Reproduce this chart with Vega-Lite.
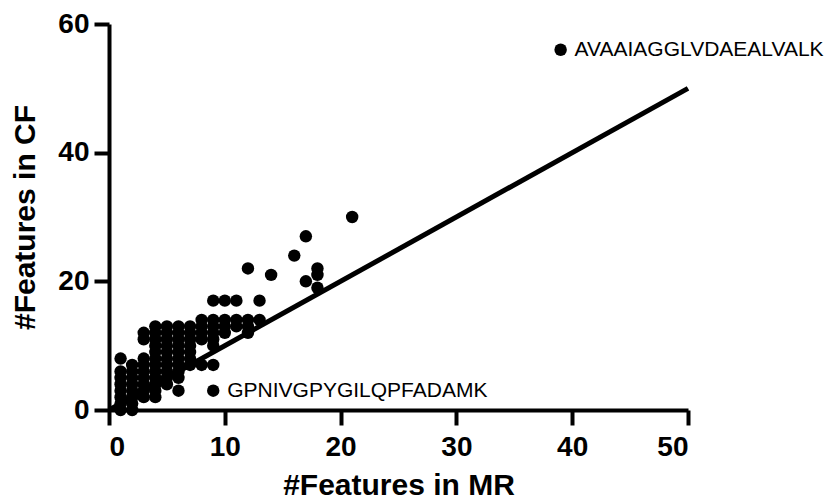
{
  "$schema": "https://vega.github.io/schema/vega-lite/v6.json",
  "width": 579,
  "height": 386,
  "autosize": "none",
  "padding": {"left": 109, "top": 24, "right": 146, "bottom": 94},
  "background": "white",
  "config": {
    "view": {"stroke": null},
    "font": "Liberation Sans",
    "axis": {
      "grid": false,
      "domainColor": "black",
      "domainWidth": 4,
      "tickColor": "black",
      "tickWidth": 4,
      "tickSize": 15,
      "labelFont": "Liberation Sans",
      "labelFontWeight": "bold",
      "labelFontSize": 28,
      "labelColor": "black",
      "titleFont": "Liberation Sans",
      "titleFontWeight": "bold",
      "titleFontSize": 30,
      "titleColor": "black"
    }
  },
  "datasets": {
    "points": [
      {"mr": 1, "cf": 0}, {"mr": 1, "cf": 1}, {"mr": 1, "cf": 2}, {"mr": 1, "cf": 3}, {"mr": 1, "cf": 4}, {"mr": 1, "cf": 5}, {"mr": 1, "cf": 6}, {"mr": 1, "cf": 8},
      {"mr": 2, "cf": 0}, {"mr": 2, "cf": 1}, {"mr": 2, "cf": 2}, {"mr": 2, "cf": 3}, {"mr": 2, "cf": 4}, {"mr": 2, "cf": 5}, {"mr": 2, "cf": 6}, {"mr": 2, "cf": 7},
      {"mr": 3, "cf": 2}, {"mr": 3, "cf": 3}, {"mr": 3, "cf": 4}, {"mr": 3, "cf": 5}, {"mr": 3, "cf": 6}, {"mr": 3, "cf": 7}, {"mr": 3, "cf": 8}, {"mr": 3, "cf": 11}, {"mr": 3, "cf": 12},
      {"mr": 4, "cf": 2}, {"mr": 4, "cf": 3}, {"mr": 4, "cf": 4}, {"mr": 4, "cf": 5}, {"mr": 4, "cf": 6}, {"mr": 4, "cf": 7}, {"mr": 4, "cf": 8}, {"mr": 4, "cf": 9}, {"mr": 4, "cf": 10}, {"mr": 4, "cf": 11}, {"mr": 4, "cf": 12}, {"mr": 4, "cf": 13},
      {"mr": 5, "cf": 4}, {"mr": 5, "cf": 5}, {"mr": 5, "cf": 6}, {"mr": 5, "cf": 7}, {"mr": 5, "cf": 8}, {"mr": 5, "cf": 9}, {"mr": 5, "cf": 10}, {"mr": 5, "cf": 11}, {"mr": 5, "cf": 12}, {"mr": 5, "cf": 13},
      {"mr": 6, "cf": 3}, {"mr": 6, "cf": 5}, {"mr": 6, "cf": 6}, {"mr": 6, "cf": 7}, {"mr": 6, "cf": 8}, {"mr": 6, "cf": 9}, {"mr": 6, "cf": 10}, {"mr": 6, "cf": 11}, {"mr": 6, "cf": 12}, {"mr": 6, "cf": 13},
      {"mr": 7, "cf": 7}, {"mr": 7, "cf": 8}, {"mr": 7, "cf": 9}, {"mr": 7, "cf": 10}, {"mr": 7, "cf": 11}, {"mr": 7, "cf": 12}, {"mr": 7, "cf": 13},
      {"mr": 8, "cf": 7}, {"mr": 8, "cf": 11}, {"mr": 8, "cf": 12}, {"mr": 8, "cf": 13}, {"mr": 8, "cf": 14},
      {"mr": 9, "cf": 3}, {"mr": 9, "cf": 7}, {"mr": 9, "cf": 10}, {"mr": 9, "cf": 11}, {"mr": 9, "cf": 12}, {"mr": 9, "cf": 13}, {"mr": 9, "cf": 14}, {"mr": 9, "cf": 17},
      {"mr": 10, "cf": 12}, {"mr": 10, "cf": 13}, {"mr": 10, "cf": 14}, {"mr": 10, "cf": 17},
      {"mr": 11, "cf": 13}, {"mr": 11, "cf": 14}, {"mr": 11, "cf": 17},
      {"mr": 12, "cf": 12}, {"mr": 12, "cf": 13}, {"mr": 12, "cf": 14}, {"mr": 12, "cf": 22},
      {"mr": 13, "cf": 14}, {"mr": 13, "cf": 17},
      {"mr": 14, "cf": 21},
      {"mr": 16, "cf": 24},
      {"mr": 17, "cf": 20}, {"mr": 17, "cf": 27},
      {"mr": 18, "cf": 19}, {"mr": 18, "cf": 21}, {"mr": 18, "cf": 22},
      {"mr": 21, "cf": 30},
      {"mr": 39, "cf": 56}
    ],
    "line": [{"mr": 0, "cf": 0}, {"mr": 50, "cf": 50}],
    "labels": [
      {"mr": 39, "cf": 56, "peptide": "AVAAIAGGLVDAEALVALK"},
      {"mr": 9, "cf": 3, "peptide": "GPNIVGPYGILQPFADAMK"}
    ]
  },
  "layer": [
    {
      "data": {"name": "line"},
      "mark": {"type": "line", "color": "black", "strokeWidth": 5, "strokeCap": "butt"},
      "encoding": {
        "x": {"field": "mr", "type": "quantitative", "scale": {"domain": [0, 50], "nice": false},
          "axis": {"title": "#Features in MR", "values": [0, 10, 20, 30, 40, 50], "labelPadding": 8, "titlePadding": 9}},
        "y": {"field": "cf", "type": "quantitative", "scale": {"domain": [0, 60], "nice": false},
          "axis": {"title": "#Features in CF", "values": [0, 20, 40, 60], "labelPadding": 5, "titlePadding": 17}}
      }
    },
    {
      "data": {"name": "points"},
      "mark": {"type": "circle", "color": "black", "opacity": 1, "size": 155},
      "encoding": {
        "x": {"field": "mr", "type": "quantitative"},
        "y": {"field": "cf", "type": "quantitative"}
      }
    },
    {
      "data": {"name": "labels"},
      "mark": {"type": "text", "align": "left", "baseline": "middle", "dx": 14, "fontSize": 21, "font": "Liberation Sans", "color": "black"},
      "encoding": {
        "x": {"field": "mr", "type": "quantitative"},
        "y": {"field": "cf", "type": "quantitative"},
        "text": {"field": "peptide"}
      }
    }
  ]
}
